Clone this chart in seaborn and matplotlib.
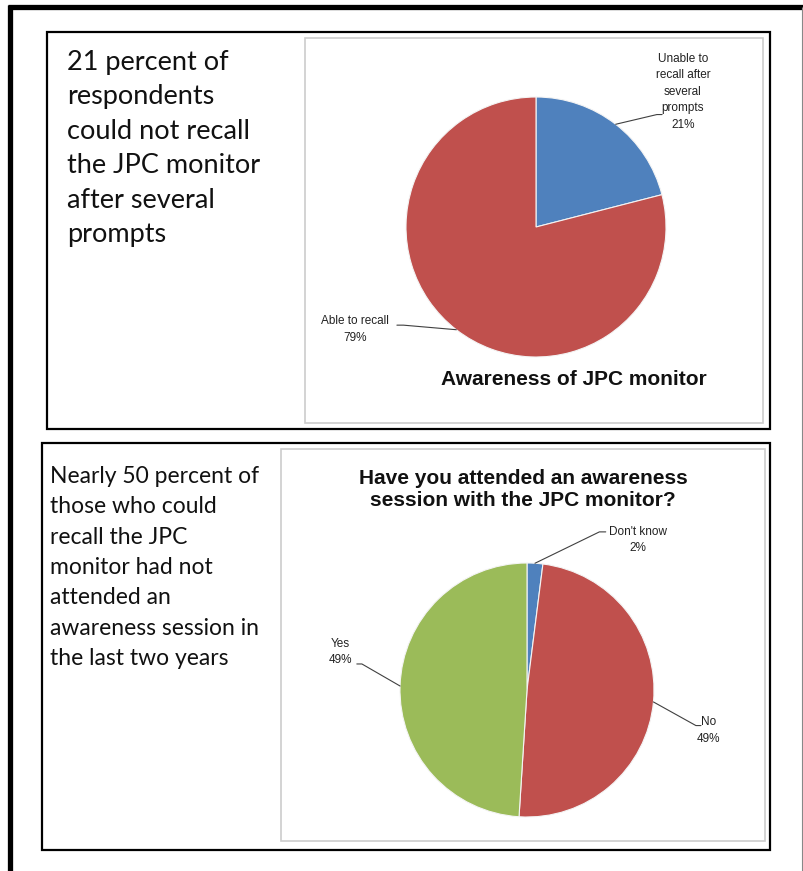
import numpy as np
import matplotlib
matplotlib.use("Agg")
import matplotlib.pyplot as plt
from matplotlib.patches import Rectangle
from matplotlib.lines import Line2D
import seaborn as sns

# data
awareness_labels = ["Unable to\nrecall after\nseveral\nprompts", "Able to recall"]
awareness_values = [21, 79]
session_labels = ["Don't know", "No", "Yes"]
session_values = [2, 49, 49]

awareness_title = "Awareness of JPC monitor"
session_title = "Have you attended an awareness\nsession with the JPC monitor?"
note_1 = ("21 percent of\nrespondents\ncould not recall\nthe JPC monitor\n"
          "after several\nprompts")
note_2 = ("Nearly 50 percent of\nthose who could\nrecall the JPC\nmonitor had not\n"
          "attended an\nawareness session in\nthe last two years")

office = sns.color_palette(["#4F81BD", "#C0504D", "#9BBB59"])

sns.set_theme(style="white")
plt.rcParams['font.family'] = ['Liberation Sans', 'DejaVu Sans']

W, H = 804, 871
fig = plt.figure(figsize=(W / 100, H / 100), dpi=100)
fig.patch.set_facecolor("white")


def fx(x):
    return x / W


def fy(y):
    return 1 - y / H


def box(x0, y0, x1, y1, color, lw):
    fig.add_artist(Rectangle((fx(x0), fy(y1)), fx(x1) - fx(x0), fy(y0) - fy(y1),
                             transform=fig.transFigure, fill=False,
                             edgecolor=color, linewidth=lw))


def line(xs, ys, color, lw):
    fig.add_artist(Line2D([fx(v) for v in xs], [fy(v) for v in ys],
                          transform=fig.transFigure, color=color, linewidth=lw,
                          solid_capstyle='butt'))


# outer frame (left / top thick, right thin)
line([10.5, 10.5], [5, 871], "black", 3.8)
line([8, 804], [7.5, 7.5], "black", 3.8)
line([802.5, 802.5], [7, 871], "#888888", 0.8)

# panels and chart areas
box(47, 32, 770, 429, "black", 1.6)
box(305, 38, 763, 423, "#cccccc", 1.2)
box(42, 443, 770, 850, "black", 1.6)
box(281, 449, 765, 841, "#cccccc", 1.2)


def draw_pie(ax, values, labels, colors, text_pos, line_end):
    wedges, _ = ax.pie(values, colors=colors, startangle=90, counterclock=False,
                       wedgeprops=dict(edgecolor="#f4f4f4", linewidth=0.8))
    ax.set_xlim(-1.0, 1.0)
    ax.set_ylim(-1.0, 1.0)
    ax.set_aspect("equal")
    for w, lab, v, tp, le in zip(wedges, labels, values, text_pos, line_end):
        mid = np.deg2rad((w.theta1 + w.theta2) / 2)
        ax.plot([np.cos(mid), le[0][0], le[1][0]], [np.sin(mid), le[0][1], le[1][1]],
                color="#404040", lw=0.8, clip_on=False)
        ax.text(tp[0], tp[1], f"{lab}\n{v}%", ha="center", va="center",
                fontsize=8.5, color="#222222", linespacing=1.5, clip_on=False)


ax1 = fig.add_axes([fx(406), fy(357), fx(666) - fx(406), fy(97) - fy(357)])
draw_pie(ax1, awareness_values, awareness_labels, [office[0], office[1]],
         text_pos=[(1.13, 1.04), (-1.39, -0.79)],
         line_end=[((0.93, 0.865), (0.97, 0.865)), ((-1.02, -0.755), (-1.07, -0.755))])

ax2 = fig.add_axes([fx(400), fy(817), fx(654) - fx(400), fy(563) - fy(817)])
draw_pie(ax2, session_values, session_labels, [office[0], office[1], office[2]],
         text_pos=[(0.874, 1.18), (1.43, -0.32), (-1.47, 0.30)],
         line_end=[((0.57, 1.245), (0.62, 1.245)), ((1.33, -0.28), (1.37, -0.28)),
                   ((-1.30, 0.205), (-1.34, 0.205))])

fig.text(fx(574), fy(379), awareness_title, ha="center", va="center",
         fontsize=15, fontweight="bold", color="#111111")
fig.text(fx(523), fy(489), session_title, ha="center", va="center",
         fontsize=15, fontweight="bold", color="#111111", linespacing=1.2)

fig.text(fx(67), fy(50), note_1, ha="left", va="top", fontsize=19.5,
         family=["Lato", "DejaVu Sans"], linespacing=1.47, color="#111111")
fig.text(fx(50), fy(466), note_2, ha="left", va="top", fontsize=16.5,
         family=["Lato", "DejaVu Sans"], linespacing=1.55, color="#111111")

fig.savefig("out.png", dpi=100)
